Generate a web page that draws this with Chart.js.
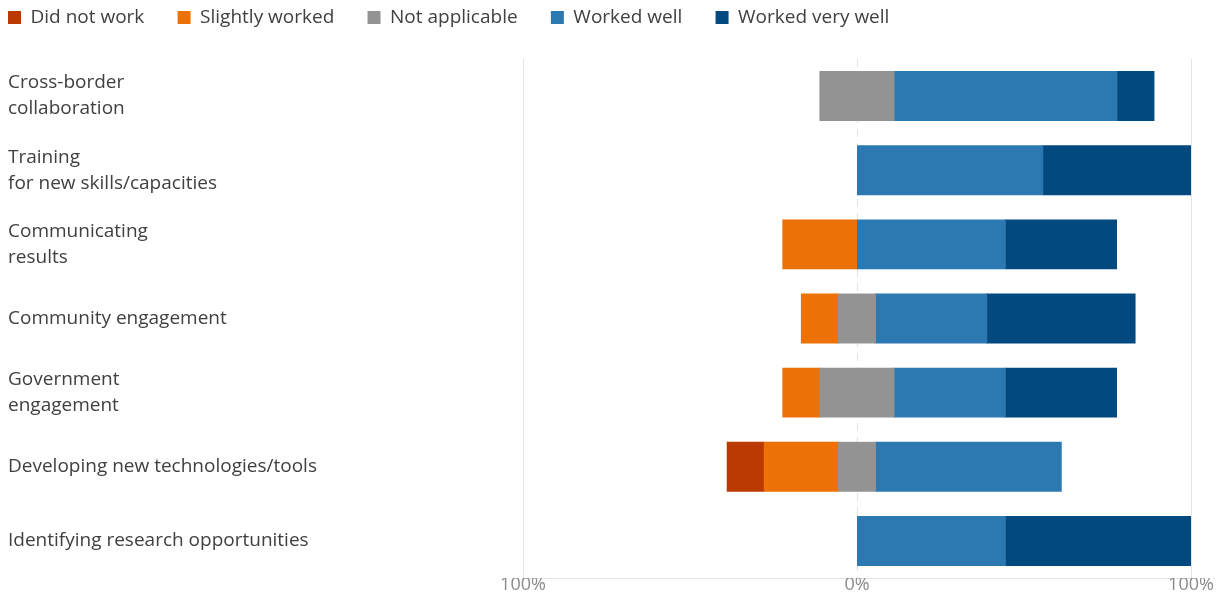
<!DOCTYPE html>
<html>
<head>
<meta charset="utf-8">
<script src="https://cdn.jsdelivr.net/npm/chart.js@4.4.1/dist/chart.umd.min.js"></script>
<style>
  html, body { margin: 0; padding: 0; background: #fff; }
  #wrap { width: 1219px; height: 596px; position: relative; }
</style>
</head>
<body>
<div id="wrap"><canvas id="chart"></canvas></div>
<script>
const categories = [
  ["Cross-border", "collaboration"],
  ["Training", "for new skills/capacities"],
  ["Communicating", "results"],
  "Community engagement",
  ["Government", "engagement"],
  "Developing new technologies/tools",
  "Identifying research opportunities"
];

// shares in %
const didNotWork     = [0, 0, 0, 0, 0, 11.1, 0];
const slightlyWorked = [0, 0, 22.2, 11.1, 11.1, 22.2, 0];
const notApplicable  = [22.2, 0, 0, 11.1, 22.2, 11.1, 0];
const workedWell     = [66.7, 55.6, 44.4, 33.3, 33.3, 55.6, 44.4];
const workedVeryWell = [11.1, 44.4, 33.3, 44.4, 33.3, 0, 55.6];

const tickValues = [-100, 0, 100];

const colors = {
  didNot: "#BB3A02",
  slight: "#EC7207",
  na: "#939393",
  well: "#2C78B0",
  veryWell: "#02497F"
};

// negative side stacks outward from 0 in dataset order; empty cells drawn as nothing
const neg = arr => arr.map(v => (v ? -v : null));
const pos = arr => arr.map(v => (v ? v : null));
const half = arr => arr.map(v => v / 2);

const datasets = [
  { label: "Not applicable", data: neg(half(notApplicable)), backgroundColor: colors.na, legendOrder: 2 },
  { label: "Slightly worked", data: neg(slightlyWorked), backgroundColor: colors.slight, legendOrder: 1 },
  { label: "Did not work", data: neg(didNotWork), backgroundColor: colors.didNot, legendOrder: 0 },
  { label: "Not applicable", data: pos(half(notApplicable)), backgroundColor: colors.na, legendOrder: -1 },
  { label: "Worked well", data: pos(workedWell), backgroundColor: colors.well, legendOrder: 3 },
  { label: "Worked very well", data: pos(workedVeryWell), backgroundColor: colors.veryWell, legendOrder: 4 }
];

const zeroLine = {
  id: "zeroLine",
  beforeDatasetsDraw(chart) {
    const { ctx, chartArea, scales } = chart;
    const x = Math.round(scales.x.getPixelForValue(0)) + 0.5;
    ctx.save();
    ctx.strokeStyle = "#e3e3e3";
    ctx.lineWidth = 1;
    ctx.setLineDash([8, 6]);
    ctx.beginPath();
    ctx.moveTo(x, chartArea.top);
    ctx.lineTo(x, chartArea.bottom);
    ctx.stroke();
    ctx.restore();
  }
};

Chart.defaults.font.family = "'Open Sans', 'Noto Sans', sans-serif";

new Chart(document.getElementById("chart"), {
  type: "bar",
  data: {
    labels: categories,
    datasets: datasets.map(d => ({
      ...d,
      stack: "s",
      barPercentage: 0.66,
      categoryPercentage: 1,
      borderWidth: 0,
      inflateAmount: 0.5
    }))
  },
  options: {
    indexAxis: "y",
    responsive: true,
    maintainAspectRatio: false,
    animation: false,
    layout: { padding: { left: 8, right: 28, top: 8, bottom: 0 } },
    plugins: {
      tooltip: { enabled: false },
      legend: {
        position: "top",
        align: "start",
        labels: {
          color: "#404040",
          font: { size: 19 },
          boxWidth: 13,
          boxHeight: 13,
          padding: 0,
          filter: item => datasets[item.datasetIndex].legendOrder >= 0,
          sort: (a, b) => datasets[a.datasetIndex].legendOrder - datasets[b.datasetIndex].legendOrder,
          generateLabels(chart) {
            const items = Chart.defaults.plugins.legend.labels.generateLabels(chart);
            items.forEach(it => {
              it.text = it.text + "\u2003\u2002\u2005";
              it.lineWidth = 0;
            });
            return items;
          }
        }
      }
    },
    scales: {
      x: {
        stacked: true,
        min: -100,
        max: 100,
        afterBuildTicks(scale) {
          scale.ticks = tickValues.map(v => ({ value: v }));
        },
        afterFit(scale) { scale.height = 18; },
        ticks: {
          color: "#8a8a8a",
          font: { size: 18 },
          padding: -4,
          callback: v => Math.abs(v) + "%"
        },
        grid: {
          drawTicks: false,
          color: ctx => (ctx.tick && ctx.tick.value === 0 ? "rgba(0,0,0,0)" : "#e3e3e3")
        },
        border: { display: true, color: "#e3e3e3" }
      },
      // empty band between legend and plot
      gap: {
        type: "linear",
        position: "top",
        afterFit(scale) { scale.height = 22; },
        ticks: { display: false },
        grid: { display: false },
        border: { display: false }
      },
      y: {
        stacked: true,
        afterFit(scale) {
          scale.width = 515;
          scale.paddingTop = 0;
          scale.paddingBottom = 0;
        },
        ticks: {
          crossAlign: "far",
          color: "#404040",
          font: { size: 19, lineHeight: 1.37 }
        },
        grid: { display: false },
        border: { display: false }
      }
    }
  },
  plugins: [zeroLine]
});
</script>
</body>
</html>
